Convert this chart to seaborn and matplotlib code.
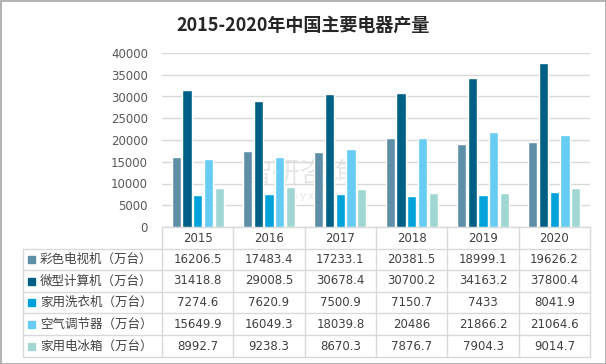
import matplotlib
matplotlib.use("Agg")
import matplotlib.pyplot as plt
import seaborn as sns
import pandas as pd

years = ["2015", "2016", "2017", "2018", "2019", "2020"]
series_names = ["彩色电视机（万台）", "微型计算机（万台）", "家用洗衣机（万台）",
                "空气调节器（万台）", "家用电冰箱（万台）"]
tv = [16206.5, 17483.4, 17233.1, 20381.5, 18999.1, 19626.2]
pc = [31418.8, 29008.5, 30678.4, 30700.2, 34163.2, 37800.4]
washer = [7274.6, 7620.9, 7500.9, 7150.7, 7433, 8041.9]
aircon = [15649.9, 16049.3, 18039.8, 20486, 21866.2, 21064.6]
fridge = [8992.7, 9238.3, 8670.3, 7876.7, 7904.3, 9014.7]
colors = ["#5E8FA7", "#005F85", "#00A2DA", "#66CCF3", "#A1D7D3"]
y_ticks = list(range(0, 40001, 5000))

values = [tv, pc, washer, aircon, fridge]
df = pd.DataFrame([(y, s, v[i]) for s, v in zip(series_names, values)
                   for i, y in enumerate(years)], columns=["year", "item", "value"])

sns.set_style("white")
plt.rcParams["font.family"] = ["Noto Sans CJK SC", "DejaVu Sans"]

W, H = 606, 364
fig = plt.figure(figsize=(W / 100, H / 100), dpi=100)

# 像素坐标 -> figure 坐标
L, R, T, B = 162, 590, 53, 227
ax = fig.add_axes([L / W, 1 - B / H, (R - L) / W, (B - T) / H])
sns.barplot(data=df, x="year", y="value", hue="item", order=years,
            hue_order=series_names, palette=colors, saturation=1, width=0.75,
            gap=0.15, legend=False, ax=ax, zorder=3)
ax.set_ylim(0, 40000)
ax.set_yticks(y_ticks)
ax.set_yticklabels([str(t) for t in y_ticks], fontsize=8.5, color="#595959",
                   family="DejaVu Sans")
ax.tick_params(axis="y", length=0, pad=10)
ax.set_xticks([])
ax.set_xlabel("")
ax.set_ylabel("")
ax.grid(axis="y", color="#D9D9D9", linewidth=1, zorder=0)
ax.patch.set_visible(False)
for sp in ax.spines.values():
    sp.set_visible(False)

# 数据表
tax = fig.add_axes([0, 0, 1, 1], zorder=-1)
tax.set_xlim(0, W)
tax.set_ylim(H, 0)
tax.axis("off")
line_c = "#D9D9D9"
row_y = [227, 249, 270, 292, 313, 335, 357]
col_w = (R - L) / len(years)
col_x = [L + i * col_w for i in range(len(years) + 1)]
tl = 23
for k, yy in enumerate(row_y):
    tax.plot([tl if k > 0 else L, R], [yy, yy], color=line_c, lw=1)
for k, xx in enumerate(col_x):
    tax.plot([xx, xx], [row_y[0], row_y[-1]], color=line_c, lw=1)
tax.plot([tl, tl], [row_y[1], row_y[-1]], color=line_c, lw=1)

txt_c = "#404040"
for i, y in enumerate(years):
    tax.text(L + (i + 0.5) * col_w, (row_y[0] + row_y[1]) / 2, y, ha="center",
             va="center", fontsize=8.5, color=txt_c, family="DejaVu Sans")
for r, (name, vals, c) in enumerate(zip(series_names, values, colors)):
    cy = (row_y[r + 1] + row_y[r + 2]) / 2
    tax.add_patch(plt.Rectangle((28, cy - 3.5), 7, 7, color=c))
    tax.text(40, cy, name, ha="left", va="center", fontsize=9, color=txt_c)
    for i, v in enumerate(vals):
        tax.text(L + (i + 0.5) * col_w, cy, f"{v:g}", ha="center", va="center",
                 fontsize=8.5, color=txt_c, family="DejaVu Sans")

# 水印
tax.text(300, 174, "智研咨询", ha="center", va="center", fontsize=20,
         color="#B0B0B0", alpha=0.3)
tax.text(300, 196, "w w w . c h y x x . c o m", ha="center", va="center",
         fontsize=8, color="#B0B0B0", alpha=0.3)

# 外框
tax.add_patch(plt.Rectangle((0.5, 0.5), W - 1, H - 1, fill=False,
                            edgecolor="#A6A6A6", lw=1.2))

fig.text(0.5, 1 - 25 / H, "2015-2020年中国主要电器产量", ha="center", va="center",
         fontsize=13, fontweight="bold", color="#262626")

fig.savefig("out.png", dpi=100, facecolor="white")
